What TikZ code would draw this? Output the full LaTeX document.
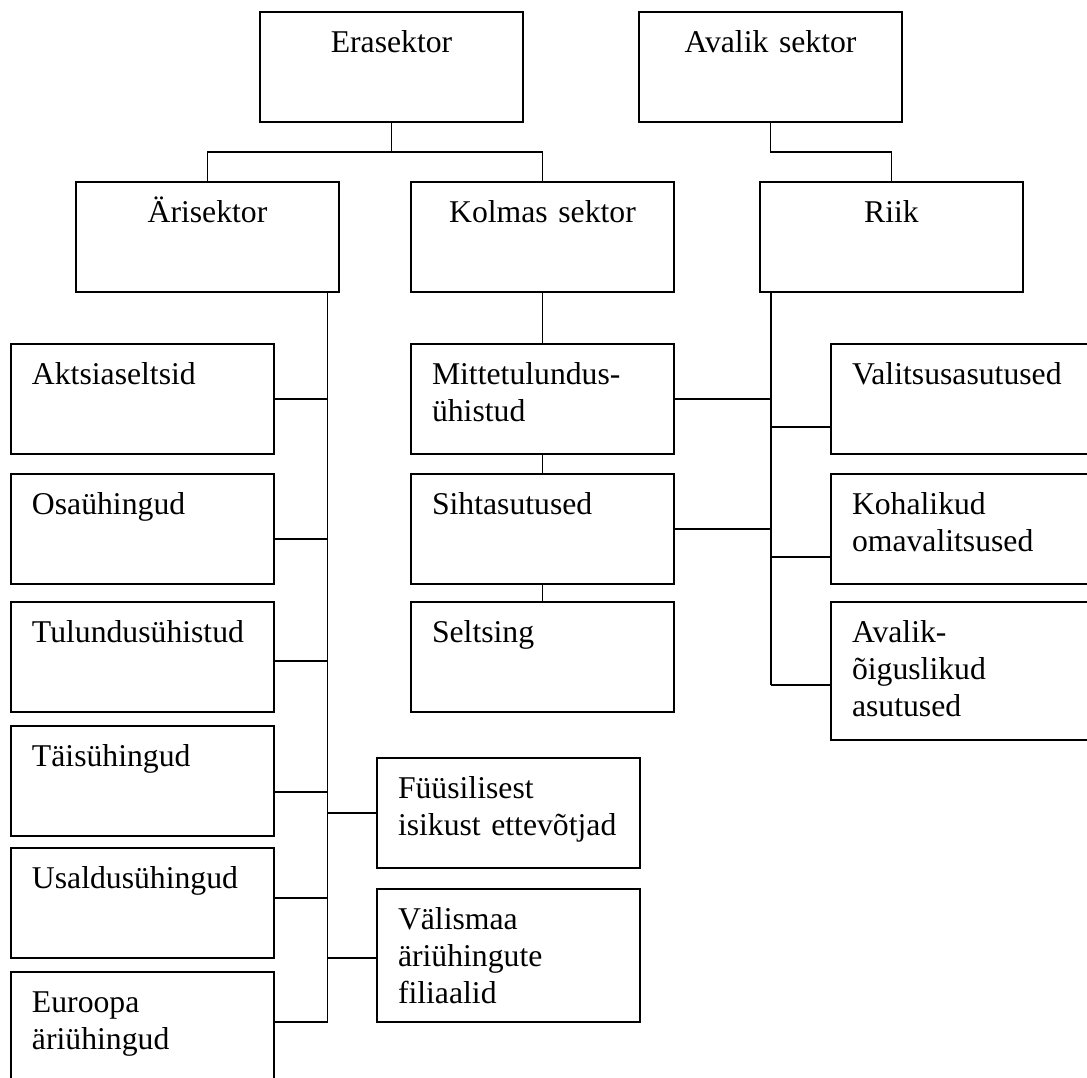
\documentclass[tikz,border=0pt]{standalone}
\usepackage{fontspec}
\setmainfont{Liberation Serif}
\usetikzlibrary{positioning}

\begin{document}
\begin{tikzpicture}[font=\fontsize{15.85pt}{18.5pt}\selectfont,
    unit/.style={draw, line width=1pt, outer sep=0pt, inner xsep=10.5pt, inner ysep=0pt,
      text width=110.5pt, text height=20pt, text depth=35pt, anchor=north west},
    head/.style={unit, align=center},
    leaf/.style={unit, align=left},
    tall/.style={text depth=46.5pt},
    link/.style={line width=0.75pt}]
  \useasboundingbox (0,0) rectangle (543.5pt,-538.5pt);

  \node[head] (era)  at (130pt,-6pt)   {Erasektor};
  \node[head] (aval) at (319.5pt,-6pt) {Avalik sektor};
  \node[head] (ari)  at (38pt,-91pt)   {Ärisektor};
  \node[head] (kol)  at (205.5pt,-91pt) {Kolmas sektor};
  \node[head] (riik) at (380pt,-91pt)  {Riik};

  \node[leaf] (akt) at (5.5pt,-172pt) {Aktsiaseltsid};
  \node[leaf] [below=10pt of akt] (osa) {Osaühingud};
  \node[leaf] [below=9pt of osa] (tul) {Tulundusühistud};
  \node[leaf] [below=7pt of tul] (tai) {Täisühingud};
  \node[leaf] [below=6pt of tai] (usa) {Usaldusühingud};
  \node[leaf, tall] [below=7pt of usa] (eur) {Euroopa\\äriühingud};

  \node[leaf] (mit) at (205.5pt,-172pt) {Mittetulundus-\\ühistud};
  \node[leaf] [below=10pt of mit] (sih) {Sihtasutused};
  \node[leaf] [below=9pt of sih] (sel) {Seltsing};

  \node[leaf] (fuu) at (188.5pt,-379pt) {Füüsilisest\\isikust ettevõtjad};
  \node[leaf, tall] [below=10.5pt of fuu] (vmaa) {Välismaa\\äriühingute\\filiaalid};

  \node[leaf] (valit) at (415.5pt,-172pt) {Valitsusasutused};
  \node[leaf] [below=10pt of valit] (koha) {Kohalikud\\omavalitsused};
  \node[leaf, text depth=49pt] [below=9pt of koha] (avoi) {Avalik-\\õiguslikud\\asutused};

  \draw[link] (era.south) -- ++(0,-15pt) -| (ari.north);
  \draw[link] (era.south) -- ++(0,-15pt) -| (kol.north);
  \draw[link] (aval.south) -- ++(0,-15pt) -| (riik.north);
  \draw[link] (kol.south) -- (mit.north);
  \draw[link] (mit.south) -- (sih.north);
  \draw[link] (sih.south) -- (sel.north);

  \coordinate (atop) at ([xshift=-5.75pt]ari.south east);
  \coordinate (eurb) at ([yshift=-25pt]eur.north east);
  \coordinate (abot) at (atop |- eurb);
  \draw[link] (atop) -- (abot);
  \foreach \n/\s in {akt/0pt, osa/-5pt, tul/-2pt, tai/-5.5pt, usa/2.5pt}
    \draw[link] ([yshift=\s]\n.east) -| (abot);
  \draw[link] (eurb) -- (abot);
  \draw[link] (fuu.west) -| (abot);
  \draw[link] ([yshift=-1.25pt]vmaa.west) -| (abot);

  \coordinate (rtop) at ([xshift=5.5pt]riik.south west);
  \coordinate (avob) at ([yshift=-41.5pt]avoi.north west);
  \coordinate (rbot) at (rtop |- avob);
  \draw[link] (rtop) -- (rbot);
  \draw[link] (mit.east) -| (rbot);
  \draw[link] (sih.east) -| (rbot);
  \foreach \n in {valit, koha, avoi}
    \draw[link] ([yshift=-41.5pt]\n.north west) -| (rbot);
\end{tikzpicture}
\end{document}
